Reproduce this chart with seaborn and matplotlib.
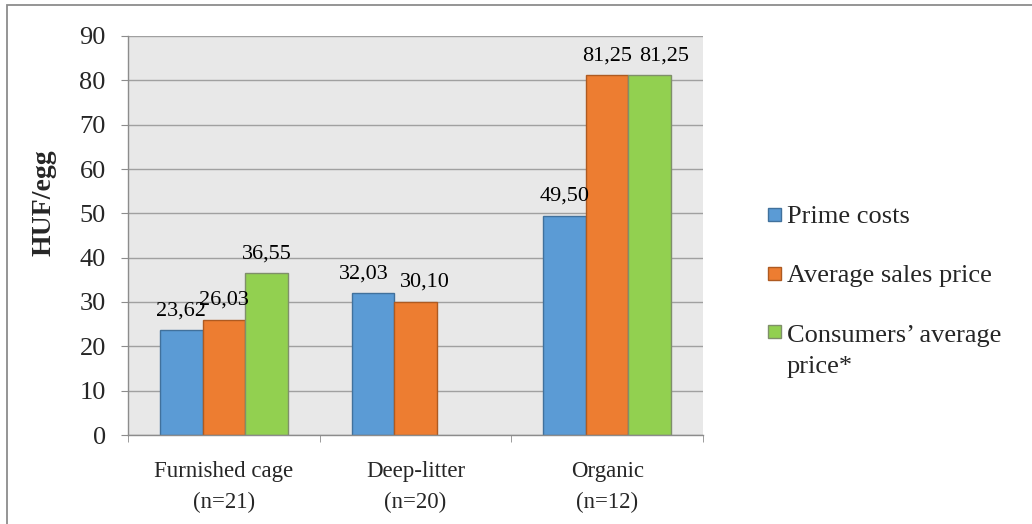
import matplotlib
matplotlib.use("Agg")
import matplotlib.pyplot as plt
from matplotlib.patches import Rectangle
import seaborn as sns
import pandas as pd
import numpy as np

# ---- data ----
categories = ["Furnished cage\n(n=21)", "Deep-litter\n(n=20)", "Organic\n(n=12)"]
series = ["Prime costs", "Average sales price", "Consumers’ average price*"]
legend_labels = ["Prime costs", "Average sales price", "Consumers’ average\nprice*"]
prime_costs = [23.62, 32.03, 49.50]
avg_sales_price = [26.03, 30.10, 81.25]
consumer_price = [36.55, np.nan, 81.25]
y_ticks = [0, 10, 20, 30, 40, 50, 60, 70, 80, 90]

# styling
colors = ["#5B9BD5", "#ED7D31", "#92D050"]
edge_colors = ["#41719C", "#AE5A21", "#7F8F6A"]
# horizontal nudges (points) of value labels to avoid collisions, per (series, category)
label_nudge = {(0, 1): -6.5, (1, 1): 7.0, (2, 2): 10.0}

rows = []
for s, vals in zip(series, [prime_costs, avg_sales_price, consumer_price]):
    for c, v in zip(categories, vals):
        if not np.isnan(v):
            rows.append({"category": c, "series": s, "value": v})
df = pd.DataFrame(rows)

sns.set_style("white")
plt.rcParams["font.family"] = ["Liberation Serif", "DejaVu Serif"]
FS_Y = 19
FS_X = 16.5
FS_VAL = 16
FS_LEG = 19
FS_YLAB = 20

W, H = 1032, 524
fig = plt.figure(figsize=(W / 100, H / 100), dpi=100)
ax = fig.add_axes([128 / W, 1 - 435 / H, (703 - 128) / W, (435 - 36) / H])

sns.barplot(data=df, x="category", y="value", hue="series", order=categories,
            hue_order=series, palette=colors, width=0.667, gap=0, ax=ax,
            legend=False, errorbar=None, linewidth=1, saturation=1)

PAD = 7
for si, (cont, ec) in enumerate(zip(ax.containers, edge_colors)):
    for bar in cont:
        bar.set_edgecolor(ec)
    anns = ax.bar_label(cont, labels=[f"{v:.2f}".replace(".", ",") for v in cont.datavalues],
                        padding=PAD, fontsize=FS_VAL, color="black")
    for bar, ann in zip(cont, anns):
        ci = int(round(bar.get_x() + bar.get_width() / 2))
        dx = label_nudge.get((si, ci), 0.0)
        ann.xyann = (dx, PAD)

ax.set_xlim(-0.5, 2.5)
ax.set_ylim(0, 90)
ax.set_yticks(y_ticks)
ax.set_facecolor("#E8E8E8")
ax.yaxis.grid(True, color="#A0A0A0", lw=1)
ax.xaxis.grid(False)
ax.set_axisbelow(True)
for side in ["top", "right"]:
    ax.spines[side].set_visible(False)
for side in ["left", "bottom"]:
    ax.spines[side].set_color("#8C8C8C")
    ax.spines[side].set_linewidth(1)

ax.set_xticks([0, 1, 2])
ax.set_xticks([-0.5, 0.5, 1.5, 2.5], minor=True)
ax.tick_params(axis="x", which="major", length=0, pad=19, labelsize=FS_X)
ax.tick_params(axis="x", which="minor", length=5, color="#8C8C8C", direction="out", bottom=True)
ax.tick_params(axis="y", length=5, color="#8C8C8C", direction="out", left=True, pad=11, labelsize=FS_Y)
for lbl in ax.get_xticklabels():
    lbl.set_linespacing(1.6)

ax.set_xlabel("")
ax.set_ylabel("HUF/egg", fontweight="bold", fontsize=FS_YLAB)
ax.yaxis.set_label_coords(-0.125, (435 - 203) / (435 - 36))

# legend (manual, to keep swatch aligned with first text line)
sw = 13
patch_tops = [208, 267, 325]
baselines = [223, 282, 342]
for lab, c, ec, pt, bl in zip(legend_labels, colors, edge_colors, patch_tops, baselines):
    fig.add_artist(Rectangle((768 / W, 1 - (pt + sw) / H), sw / W, sw / H,
                             transform=fig.transFigure, facecolor=c, edgecolor=ec, lw=1))
    for k, line in enumerate(lab.split("\n")):
        fig.text(787 / W, 1 - (bl + k * 31) / H, line, fontsize=FS_LEG, va="baseline", ha="left")

# chart-area border (only top and left visible in the reference)
fig.add_artist(Rectangle((7 / W, -0.5), 2.0, 0.5 + (H - 5) / H, transform=fig.transFigure,
                         fill=False, edgecolor="#8C8C8C", lw=1.3))

fig.savefig("out.png", dpi=100)
